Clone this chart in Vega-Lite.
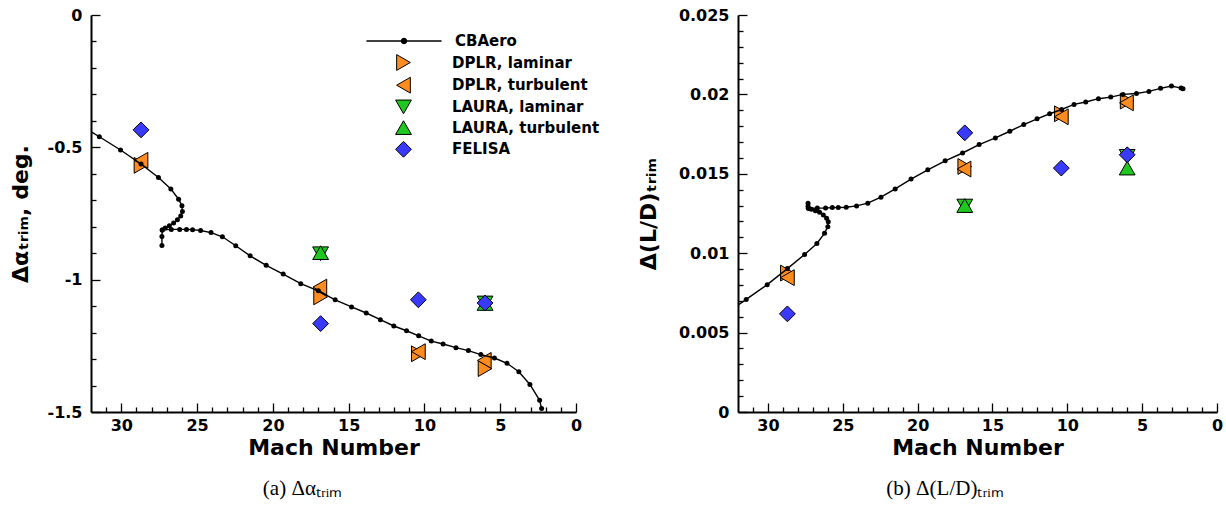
{
  "$schema": "https://vega.github.io/schema/vega-lite/v6.json",
  "background": "white",
  "padding": {"left": 9, "top": 7, "right": 5, "bottom": 5},
  "config": {"view": {"stroke": null}, "font": "DejaVu Sans"},
  "datasets": {
    "cb": [
      {"i":0,"seg":"A","M":33,"a":-0.405,"ld":0.00606},
      {"i":1,"seg":"A","M":31.45,"a":-0.46,"ld":0.00709},
      {"i":2,"seg":"A","M":30.05,"a":-0.51,"ld":0.00802},
      {"i":3,"seg":"A","M":28.7,"a":-0.563,"ld":0.00903},
      {"i":4,"seg":"A","M":27.55,"a":-0.614,"ld":0.00992},
      {"i":5,"seg":"A","M":26.73,"a":-0.657,"ld":0.01061},
      {"i":6,"seg":"A","M":26.22,"a":-0.696,"ld":0.01125},
      {"i":7,"seg":"A","M":26.0,"a":-0.721,"ld":0.01167},
      {"i":8,"seg":"A","M":25.97,"a":-0.742,"ld":0.01198},
      {"i":9,"seg":"A","M":26.08,"a":-0.759,"ld":0.0122},
      {"i":10,"seg":"A","M":26.3,"a":-0.774,"ld":0.0124},
      {"i":11,"seg":"A","M":26.55,"a":-0.786,"ld":0.01258},
      {"i":12,"seg":"A","M":26.83,"a":-0.796,"ld":0.01268},
      {"i":13,"seg":"A","M":27.1,"a":-0.805,"ld":0.01277},
      {"i":14,"seg":"A","M":27.3,"a":-0.812,"ld":0.01283},
      {"i":15,"seg":"A","M":27.32,"a":-0.837,"ld":0.01296},
      {"i":16,"seg":"A","M":27.32,"a":-0.871,"ld":0.01315},
      {"i":17,"seg":"B","M":27.3,"a":-0.812,"ld":0.01283},
      {"i":18,"seg":"B","M":26.7,"a":-0.81,"ld":0.01284},
      {"i":19,"seg":"B","M":26.15,"a":-0.81,"ld":0.01285},
      {"i":20,"seg":"B","M":25.7,"a":-0.81,"ld":0.01287},
      {"i":21,"seg":"B","M":25.3,"a":-0.811,"ld":0.01288},
      {"i":22,"seg":"B","M":24.77,"a":-0.814,"ld":0.01289},
      {"i":23,"seg":"B","M":24.08,"a":-0.822,"ld":0.01298},
      {"i":24,"seg":"B","M":23.33,"a":-0.838,"ld":0.01315},
      {"i":25,"seg":"B","M":22.45,"a":-0.872,"ld":0.01353},
      {"i":26,"seg":"B","M":21.5,"a":-0.91,"ld":0.01405},
      {"i":27,"seg":"B","M":20.44,"a":-0.946,"ld":0.01467},
      {"i":28,"seg":"B","M":19.32,"a":-0.979,"ld":0.01525},
      {"i":29,"seg":"B","M":18.16,"a":-1.015,"ld":0.01582},
      {"i":30,"seg":"B","M":17.0,"a":-1.042,"ld":0.01631},
      {"i":31,"seg":"B","M":15.89,"a":-1.076,"ld":0.01684},
      {"i":32,"seg":"B","M":14.81,"a":-1.103,"ld":0.01726},
      {"i":33,"seg":"B","M":13.84,"a":-1.126,"ld":0.01768},
      {"i":34,"seg":"B","M":12.91,"a":-1.151,"ld":0.0181},
      {"i":35,"seg":"B","M":12.02,"a":-1.175,"ld":0.01846},
      {"i":36,"seg":"B","M":11.18,"a":-1.193,"ld":0.01878},
      {"i":37,"seg":"B","M":10.38,"a":-1.212,"ld":0.01905},
      {"i":38,"seg":"B","M":9.55,"a":-1.232,"ld":0.01937},
      {"i":39,"seg":"B","M":8.77,"a":-1.243,"ld":0.01952},
      {"i":40,"seg":"B","M":7.92,"a":-1.257,"ld":0.01973},
      {"i":41,"seg":"B","M":7.1,"a":-1.268,"ld":0.01983},
      {"i":42,"seg":"B","M":6.28,"a":-1.283,"ld":0.02},
      {"i":43,"seg":"B","M":5.38,"a":-1.296,"ld":0.02006},
      {"i":44,"seg":"B","M":4.55,"a":-1.316,"ld":0.02019},
      {"i":45,"seg":"B","M":3.77,"a":-1.348,"ld":0.02038},
      {"i":46,"seg":"B","M":3.04,"a":-1.396,"ld":0.02053},
      {"i":47,"seg":"B","M":2.4,"a":-1.456,"ld":0.0204},
      {"i":48,"seg":"B","M":2.27,"a":-1.487,"ld":0.02035}
    ],
    "cfd": [
      {"s":"DPLR, laminar","M":28.7,"a":-0.568,"ld":0.00875},
      {"s":"DPLR, laminar","M":16.85,"a":-1.065,"ld":0.01546},
      {"s":"DPLR, laminar","M":10.4,"a":-1.28,"ld":0.01878},
      {"s":"DPLR, laminar","M":6.0,"a":-1.336,"ld":0.01958},
      {"s":"DPLR, turbulent","M":28.7,"a":-0.549,"ld":0.00846},
      {"s":"DPLR, turbulent","M":16.9,"a":-1.028,"ld":0.0153},
      {"s":"DPLR, turbulent","M":10.4,"a":-1.272,"ld":0.01859},
      {"s":"DPLR, turbulent","M":6.05,"a":-1.305,"ld":0.01947},
      {"s":"LAURA, laminar","M":16.85,"a":-0.902,"ld":0.01297},
      {"s":"LAURA, laminar","M":6.0,"a":-1.088,"ld":0.0161},
      {"s":"LAURA, turbulent","M":16.85,"a":-0.898,"ld":0.013},
      {"s":"LAURA, turbulent","M":6.0,"a":-1.09,"ld":0.01536},
      {"s":"FELISA","M":28.7,"a":-0.434,"ld":0.00618},
      {"s":"FELISA","M":16.85,"a":-1.166,"ld":0.01758},
      {"s":"FELISA","M":10.4,"a":-1.076,"ld":0.01536},
      {"s":"FELISA","M":6.0,"a":-1.088,"ld":0.0162}
    ]
  },
  "bounds": "flush",
  "spacing": 162,
  "resolve": {"scale": {"shape": "independent", "color": "independent", "stroke": "independent"}},
  "hconcat": [
    {
      "width": 485,
      "height": 397,
      "title": {"text": "(a)  Δαₜᵣᵢₘ", "orient": "bottom", "font": "Liberation Serif", "fontSize": 21, "fontWeight": "normal", "color": "black", "frame": "bounds", "anchor": "middle", "offset": 20, "dx": -2},
      "encoding": {
        "x": {"field": "M", "type": "quantitative", "scale": {"domain": [32, 0], "nice": false, "zero": false},
          "axis": {"values": [0,1,2,3,4,5,6,7,8,9,10,11,12,13,14,15,16,17,18,19,20,21,22,23,24,25,26,27,28,29,30,31],
            "title": "Mach Number", "titleFont": "DejaVu Sans", "titleFontSize": 22, "titleFontWeight": "bold", "titleColor": "black", "titlePadding": 0,
            "labelFont": "DejaVu Sans", "labelFontSize": 16, "labelFontWeight": "bold", "labelColor": "black", "labelPadding": 14,
            "labelExpr": "datum.value % 5 === 0 ? datum.value + '' : ''", "labelFlush": false, "labelOverlap": false,
            "tickSize": {"condition": {"test": "datum.value % 5 === 0", "value": -9}, "value": -5},
            "tickColor": "black", "tickWidth": 1.3, "domainColor": "black", "domainWidth": 2, "grid": false}},
        "y": {"field": "a", "type": "quantitative", "scale": {"domain": [-1.5, 0], "nice": false, "zero": false},
          "axis": {"values": [-1.5,-1.4,-1.3,-1.2,-1.1,-1,-0.9,-0.8,-0.7,-0.6,-0.5,-0.4,-0.3,-0.2,-0.1,0],
            "title": "Δαₜᵣᵢₘ, deg.", "titleFont": "DejaVu Sans", "titleFontSize": 22, "titleFontWeight": "bold", "titleColor": "black", "titlePadding": 15,
            "labelFont": "DejaVu Sans", "labelFontSize": 16, "labelFontWeight": "bold", "labelColor": "black", "labelPadding": 18,
            "labelExpr": "abs(datum.value * 2 - round(datum.value * 2)) < 0.000001 ? datum.value + '' : ''", "labelFlush": false, "labelOverlap": false,
            "tickSize": {"condition": {"test": "abs(datum.value * 2 - round(datum.value * 2)) < 0.000001", "value": -9}, "value": -5},
            "tickColor": "black", "tickWidth": 1.3, "domainColor": "black", "domainWidth": 2, "grid": false}}
      },
      "layer": [
        {
          "data": {"name": "cfd"},
          "mark": {"type": "point", "filled": true, "stroke": "black", "strokeWidth": 1, "opacity": 1, "size": 250},
          "encoding": {
            "color": {"field": "s", "type": "nominal",
              "scale": {"domain": ["DPLR, laminar","DPLR, turbulent","LAURA, laminar","LAURA, turbulent","FELISA"], "range": ["#ff8c1e","#ff8c1e","#1ec81e","#1ec81e","#3a3aff"]},
              "legend": {"title": null, "orient": "none", "legendX": 304, "legendY": 39, "padding": 0, "rowPadding": 1.7, "labelOffset": 40, "symbolSize": 250,
                "labelFont": "DejaVu Sans", "labelFontSize": 15, "labelFontWeight": "bold", "labelColor": "black", "symbolStrokeColor": "black", "symbolStrokeWidth": 1,
                "encode": {"symbols": {"update": {"stroke": {"value": "black"}, "strokeWidth": {"value": 1}, "opacity": {"value": 1}}}}}},
            "shape": {"field": "s", "type": "nominal",
              "scale": {"domain": ["DPLR, laminar","DPLR, turbulent","LAURA, laminar","LAURA, turbulent","FELISA"], "range": ["triangle-right","triangle-left","triangle-down","triangle-up","diamond"]},
              "legend": {"title": null, "orient": "none", "legendX": 304, "legendY": 39, "padding": 0, "rowPadding": 1.7, "labelOffset": 40, "symbolSize": 250,
                "labelFont": "DejaVu Sans", "labelFontSize": 15, "labelFontWeight": "bold", "labelColor": "black", "symbolStrokeColor": "black", "symbolStrokeWidth": 1,
                "encode": {"symbols": {"update": {"stroke": {"value": "black"}, "strokeWidth": {"value": 1}, "opacity": {"value": 1}}}}}}
          }
        },
        {
          "data": {"name": "cb"},
          "mark": {"type": "line", "strokeWidth": 1.4, "clip": true},
          "encoding": {
            "detail": {"field": "seg"},
            "order": {"field": "i", "type": "quantitative"},
            "stroke": {"datum": "CBAero", "type": "nominal", "scale": {"domain": ["CBAero"], "range": ["black"]},
              "legend": {"title": null, "orient": "none", "legendX": 304, "legendY": 17, "padding": 0, "labelOffset": 42, "symbolSize": 250,
                "symbolType": "M-4.75,0H4.75M-0.32,0A0.32,0.32,0,1,0,0.32,0A0.32,0.32,0,1,0,-0.32,0Z",
                "symbolFillColor": "black", "symbolStrokeColor": "black", "symbolStrokeWidth": 1.4,
                "labelFont": "DejaVu Sans", "labelFontSize": 15, "labelFontWeight": "bold", "labelColor": "black",
                "encode": {"symbols": {"update": {"fill": {"value": "black"}, "stroke": {"value": "black"}, "strokeWidth": {"value": 1.4}}}}}}
          }
        },
        {
          "data": {"name": "cb"},
          "mark": {"type": "circle", "color": "black", "size": 25, "opacity": 1, "clip": true},
          "encoding": {}
        }
      ]
    },
    {
      "width": 479,
      "height": 397,
      "title": {"text": "(b)  Δ(L/D)ₜᵣᵢₘ", "orient": "bottom", "font": "Liberation Serif", "fontSize": 21, "fontWeight": "normal", "color": "black", "frame": "bounds", "anchor": "middle", "offset": 20, "dx": 15},
      "encoding": {
        "x": {"field": "M", "type": "quantitative", "scale": {"domain": [32, 0], "nice": false, "zero": false},
          "axis": {"values": [0,1,2,3,4,5,6,7,8,9,10,11,12,13,14,15,16,17,18,19,20,21,22,23,24,25,26,27,28,29,30,31],
            "title": "Mach Number", "titleFont": "DejaVu Sans", "titleFontSize": 22, "titleFontWeight": "bold", "titleColor": "black", "titlePadding": 0,
            "labelFont": "DejaVu Sans", "labelFontSize": 16, "labelFontWeight": "bold", "labelColor": "black", "labelPadding": 14,
            "labelExpr": "datum.value % 5 === 0 ? datum.value + '' : ''", "labelFlush": false, "labelOverlap": false,
            "tickSize": {"condition": {"test": "datum.value % 5 === 0", "value": -9}, "value": -5},
            "tickColor": "black", "tickWidth": 1.3, "domainColor": "black", "domainWidth": 2, "grid": false}},
        "y": {"field": "ld", "type": "quantitative", "scale": {"domain": [0, 0.025], "nice": false, "zero": false},
          "axis": {"values": [0,0.001,0.002,0.003,0.004,0.005,0.006,0.007,0.008,0.009,0.01,0.011,0.012,0.013,0.014,0.015,0.016,0.017,0.018,0.019,0.02,0.021,0.022,0.023,0.024,0.025],
            "title": "Δ(L/D)ₜᵣᵢₘ", "titleFont": "DejaVu Sans", "titleFontSize": 22, "titleFontWeight": "bold", "titleColor": "black", "titlePadding": 18,
            "labelFont": "DejaVu Sans", "labelFontSize": 16, "labelFontWeight": "bold", "labelColor": "black", "labelPadding": 18,
            "labelExpr": "abs(datum.value * 200 - round(datum.value * 200)) < 0.000001 ? datum.value + '' : ''", "labelFlush": false, "labelOverlap": false,
            "tickSize": {"condition": {"test": "abs(datum.value * 200 - round(datum.value * 200)) < 0.000001", "value": -9}, "value": -5},
            "tickColor": "black", "tickWidth": 1.3, "domainColor": "black", "domainWidth": 2, "grid": false}}
      },
      "layer": [
        {
          "data": {"name": "cfd"},
          "mark": {"type": "point", "filled": true, "stroke": "black", "strokeWidth": 1, "opacity": 1, "size": 250},
          "encoding": {
            "color": {"field": "s", "type": "nominal",
              "scale": {"domain": ["DPLR, laminar","DPLR, turbulent","LAURA, laminar","LAURA, turbulent","FELISA"], "range": ["#ff8c1e","#ff8c1e","#1ec81e","#1ec81e","#3a3aff"]},
              "legend": null},
            "shape": {"field": "s", "type": "nominal",
              "scale": {"domain": ["DPLR, laminar","DPLR, turbulent","LAURA, laminar","LAURA, turbulent","FELISA"], "range": ["triangle-right","triangle-left","triangle-down","triangle-up","diamond"]},
              "legend": null}
          }
        },
        {
          "data": {"name": "cb"},
          "mark": {"type": "line", "color": "black", "strokeWidth": 1.4, "clip": true},
          "encoding": {
            "detail": {"field": "seg"},
            "order": {"field": "i", "type": "quantitative"}
          }
        },
        {
          "data": {"name": "cb"},
          "mark": {"type": "circle", "color": "black", "size": 25, "opacity": 1, "clip": true},
          "encoding": {}
        }
      ]
    }
  ]
}
